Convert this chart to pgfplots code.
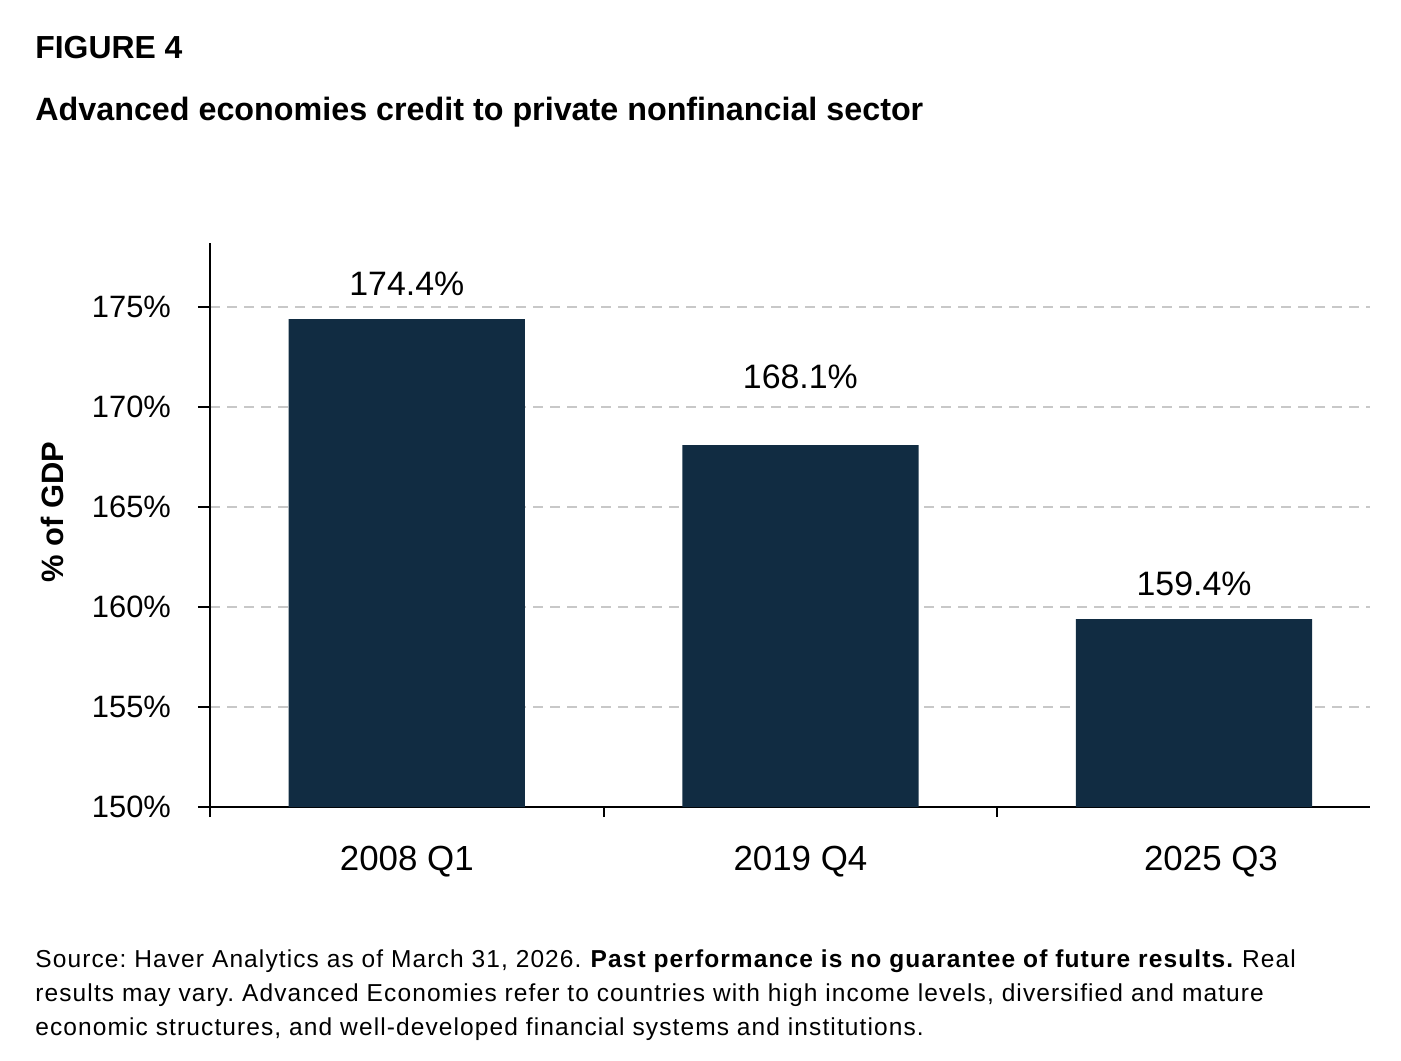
\documentclass[border=0pt]{standalone}
\usepackage{fontspec}
\setmainfont{Liberation Sans}
\newfontfamily\notefont[LetterSpace=4.5]{Liberation Sans}
\usepackage{pgfplots}
\pgfplotsset{compat=1.18}
\definecolor{barnavy}{RGB}{17,44,66}
\definecolor{gridgray}{RGB}{200,200,200}
\begin{document}
\frenchspacing
\begin{tikzpicture}
\path[use as bounding box] (0,0) rectangle (700.5bp,-530.5bp);
% titles
\node[anchor=base west, inner sep=0, font=\fontsize{16}{19}\selectfont\bfseries] at (17.5bp,-29bp) {FIGURE 4};
\node[anchor=base west, inner sep=0, font=\fontsize{16.2}{19}\selectfont\bfseries] at (17.5bp,-60bp) {Advanced economies credit to private nonfinancial sector};
% y label
\node[rotate=90, inner sep=0, font=\fontsize{15.5}{18}\selectfont\bfseries] at (26bp,-256bp) {\% of GDP};
\begin{axis}[
 at={(105bp,-403.5bp)}, anchor=south west,
 scale only axis, width=580bp, height=282bp,
 xmin=-0.5, xmax=2.447, ymin=150, ymax=178.2,
 axis x line*=bottom, axis y line*=left,
 axis line style={black, line width=1bp},
 tick align=outside, major tick length=6bp, minor tick length=5bp,
 /pgf/number format/assume math mode=true,
 ytick={150,155,...,175},
 yticklabel={\pgfmathprintnumber{\tick}\%},
 yticklabel style={font=\fontsize{15.5}{18}\selectfont, xshift=-10bp},
 y tick style={black, line width=1bp},
 xtick={0,1,2.043}, xticklabels={2008 Q1,2019 Q4,2025 Q3},
 xticklabel style={font=\fontsize{17.5}{20}\selectfont, yshift=-10bp},
 major x tick style={draw=none},
 minor xtick={-0.5,0.5,1.5},
 minor x tick style={black, line width=1bp},
 ymajorgrids,
 grid style={gridgray, line width=0.8bp, dash pattern=on 5bp off 3.5bp},
 ybar, bar width=0.6,
 clip=false,
 visualization depends on=value \thisrow{off} \as \labeloff,
 nodes near coords={\pgfmathprintnumber[fixed,fixed zerofill,precision=1]{\pgfplotspointmeta}\%},
 every node near coord/.append style={font=\fontsize{17}{20}\selectfont, anchor=base, inner sep=0, yshift=\labeloff bp},
]
\addplot[fill=barnavy, draw=none] table[x=x, y=y] {
x y off
0 174.4 12
1 168.1 28.5
2 159.4 12
};
\end{axis}
% footnote
\begin{scope}[every node/.style={anchor=base west, inner sep=0, font=\notefont\fontsize{12.3}{14}\selectfont}]
\node at (17.5bp,-483.5bp) {Source: Haver Analytics as of March 31, 2026. \textbf{Past performance is no guarantee of future results.} Real};
\node at (17.5bp,-500.5bp) {results may vary. Advanced Economies refer to countries with high income levels, diversified and mature};
\node at (17.5bp,-517.5bp) {economic structures, and well-developed financial systems and institutions.};
\end{scope}
\end{tikzpicture}
\end{document}
